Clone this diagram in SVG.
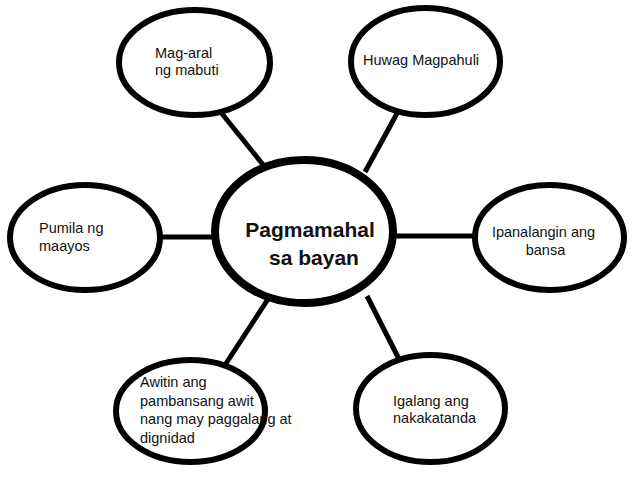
<svg xmlns="http://www.w3.org/2000/svg" width="638" height="479" viewBox="0 0 638 479">
<style>
.node{fill:#fff;stroke:#000;stroke-width:6}
.center{fill:#fff;stroke:#000;stroke-width:8}
.conn{stroke:#000;stroke-width:5;fill:none}
text{font-family:"Liberation Sans",Arial,sans-serif;font-size:14.5px;fill:#111}
.big{font-size:21px;font-weight:bold;text-anchor:middle}
.mid{text-anchor:middle}
</style>
<rect width="638" height="479" fill="#fff"/>
<g id="connectors">
<line class="conn" x1="219" y1="110" x2="269" y2="172"/>
<line class="conn" x1="400" y1="108" x2="365" y2="172"/>
<line class="conn" x1="158" y1="237" x2="216" y2="237"/>
<line class="conn" x1="392" y1="236" x2="477" y2="236"/>
<line class="conn" x1="225" y1="365" x2="270" y2="296"/>
<line class="conn" x1="401" y1="363" x2="367" y2="296"/>
</g>
<g id="center">
<ellipse class="center" cx="304" cy="231.5" rx="89" ry="71.5"/>
<text class="big" x="310" y="237">Pagmamahal</text>
<text class="big" x="314" y="265">sa bayan</text>
</g>
<g id="mag-aral">
<ellipse class="node" cx="194.5" cy="62.5" rx="75.5" ry="52.5"/>
<text x="155" y="58">Mag-aral</text>
<text x="155" y="75">ng mabuti</text>
</g>
<g id="huwag">
<ellipse class="node" cx="425.5" cy="61.5" rx="74.5" ry="53.5"/>
<text x="363" y="65">Huwag Magpahuli</text>
</g>
<g id="pumila">
<ellipse class="node" cx="85" cy="237.5" rx="75" ry="52.5"/>
<text x="39" y="233">Pumila ng</text>
<text x="39" y="251">maayos</text>
</g>
<g id="ipanalangin">
<ellipse class="node" cx="549.5" cy="237.5" rx="74.5" ry="52.5"/>
<text class="mid" x="543.5" y="237">Ipanalangin ang</text>
<text class="mid" x="545.5" y="255">bansa</text>
</g>
<g id="awitin">
<ellipse class="node" cx="190.5" cy="411" rx="74.5" ry="51"/>
<text x="140" y="387">Awitin ang</text>
<text x="140" y="405.5">pambansang awit</text>
<text x="140" y="424">nang may paggalang at</text>
<text x="140" y="442.5">dignidad</text>
</g>
<g id="igalang">
<ellipse class="node" cx="430.5" cy="408.5" rx="74.5" ry="53.5"/>
<text x="393" y="406">Igalang ang</text>
<text x="393" y="423">nakakatanda</text>
</g>
</svg>
